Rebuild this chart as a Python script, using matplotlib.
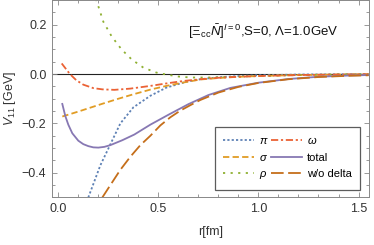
import matplotlib
matplotlib.use("Agg")
import matplotlib.pyplot as plt
from matplotlib.ticker import MultipleLocator

plt.rcParams['font.family'] = ['Liberation Sans', 'DejaVu Sans']
plt.rcParams['mathtext.fontset'] = 'custom'
plt.rcParams['mathtext.rm'] = 'Liberation Sans'
plt.rcParams['mathtext.it'] = 'Liberation Sans:italic'

# potential components (r in fm, V in GeV)
r_pi = [0.15, 0.18, 0.21, 0.26, 0.31, 0.375, 0.46, 0.54, 0.64, 0.71, 0.8, 0.9, 1.0, 1.2, 1.4, 1.55]
v_pi = [-0.5, -0.435, -0.37, -0.285, -0.2, -0.135, -0.088, -0.055, -0.031, -0.021, -0.013, -0.008, -0.005, -0.002, -0.001, 0.0]

r_sigma = [0.02, 0.1, 0.21, 0.3, 0.375, 0.46, 0.54, 0.62, 0.71, 0.8, 0.9, 1.0, 1.2, 1.4, 1.55]
v_sigma = [-0.172, -0.152, -0.123, -0.1, -0.082, -0.063, -0.048, -0.035, -0.022, -0.016, -0.011, -0.008, -0.004, -0.002, -0.001]

r_rho = [0.17, 0.19, 0.225, 0.267, 0.317, 0.367, 0.425, 0.49, 0.54, 0.6, 0.66, 0.75, 0.85, 1.0, 1.2, 1.4, 1.55]
v_rho = [0.35, 0.3, 0.212, 0.152, 0.099, 0.059, 0.026, 0.006, -0.002, -0.01, -0.014, -0.014, -0.012, -0.008, -0.004, -0.002, -0.001]

r_omega = [0.017, 0.058, 0.09, 0.125, 0.175, 0.22, 0.28, 0.36, 0.46, 0.54, 0.625, 0.71, 0.8, 0.9, 1.0, 1.2, 1.4, 1.55]
v_omega = [0.043, 0.0, -0.025, -0.043, -0.057, -0.062, -0.064, -0.059, -0.048, -0.038, -0.028, -0.021, -0.015, -0.011, -0.008, -0.004, -0.002, -0.001]

r_total = [0.02, 0.035, 0.05, 0.07, 0.1, 0.125, 0.15, 0.175, 0.2, 0.23, 0.26, 0.32, 0.38, 0.46, 0.55, 0.65, 0.75, 0.86, 1.0, 1.15, 1.3, 1.45, 1.55]
v_total = [-0.121, -0.17, -0.205, -0.24, -0.27, -0.284, -0.292, -0.297, -0.298, -0.295, -0.288, -0.268, -0.245, -0.205, -0.165, -0.122, -0.085, -0.056, -0.035, -0.02, -0.011, -0.006, -0.004]

r_nodelta = [0.22, 0.26, 0.31, 0.36, 0.41, 0.46, 0.51, 0.56, 0.61, 0.66, 0.71, 0.8, 0.9, 1.0, 1.15, 1.3, 1.45, 1.55]
v_nodelta = [-0.5, -0.45, -0.388, -0.335, -0.288, -0.25, -0.208, -0.175, -0.148, -0.126, -0.105, -0.075, -0.052, -0.036, -0.021, -0.012, -0.007, -0.005]

fig = plt.figure(figsize=(3.74, 2.45), dpi=100)
ax = fig.add_axes([0.139, 0.194, 0.848, 0.806])

lw = 1.3
ax.axhline(0, color='#222222', lw=0.8, zorder=1)
l_pi, = ax.plot(r_pi, v_pi, color='#5E81B5', lw=lw, linestyle=(0, (1.2, 1.2)), label=r'$\pi$')
l_sig, = ax.plot(r_sigma, v_sigma, color='#E19C24', lw=lw, linestyle=(0, (3.5, 1.8)), label=r'$\sigma$')
l_rho, = ax.plot(r_rho, v_rho, color='#8FB032', lw=lw, linestyle=(0, (1.2, 3.0)), label=r'$\rho$')
l_om, = ax.plot(r_omega, v_omega, color='#EB6235', lw=lw, linestyle=(0, (4, 1.5, 1.2, 1.5)), label=r'$\omega$')
l_tot, = ax.plot(r_total, v_total, color='#8778B3', lw=lw, label='total')
l_nd, = ax.plot(r_nodelta, v_nodelta, color='#C56E1A', lw=lw, linestyle=(0, (7, 2.5)), label='w/o delta')

ax.set_xlim(-0.0315, 1.553)
ax.set_ylim(-0.5, 0.3)
ax.xaxis.set_major_locator(MultipleLocator(0.5))
ax.xaxis.set_minor_locator(MultipleLocator(0.1))
ax.yaxis.set_major_locator(MultipleLocator(0.2))
ax.yaxis.set_minor_locator(MultipleLocator(0.05))
ax.tick_params(which='both', direction='in', top=True, right=True, color='#888888',
               labelsize=9, labelcolor='#333333', width=0.6)
ax.tick_params(which='major', length=3.5, pad=4)
ax.tick_params(which='minor', length=2)
for s in ax.spines.values():
    s.set_color('#888888')
    s.set_linewidth(0.7)
ax.yaxis.set_major_formatter(matplotlib.ticker.FuncFormatter(
    lambda v, p: ('%.1f' % v).replace('-', '\u2212')))

ax.set_xlabel('r[fm]', fontsize=9, color='#333333', labelpad=8)
ax.set_ylabel(r'$V_{11}$ [GeV]', fontsize=9, color='#333333', labelpad=3)

ax.text(0.665, 0.84, r'$[\Xi_{\mathrm{cc}}\bar{N}]^{I=0}$,S=0, $\mathrm{\Lambda}$=1.0GeV',
        transform=ax.transAxes, ha='center', va='center', fontsize=9.5, color='#111111')

leg = ax.legend(handles=[l_pi, l_sig, l_rho, l_om, l_tot, l_nd], ncol=2,
                loc='lower right', bbox_to_anchor=(0.99, 0.012), fontsize=8,
                frameon=True, fancybox=False, handlelength=2.8, handletextpad=0.45,
                columnspacing=0.2, labelspacing=0.6, borderpad=0.75)
leg.get_frame().set_edgecolor('#333333')
leg.get_frame().set_linewidth(0.9)

fig.savefig('out.png', dpi=100)
